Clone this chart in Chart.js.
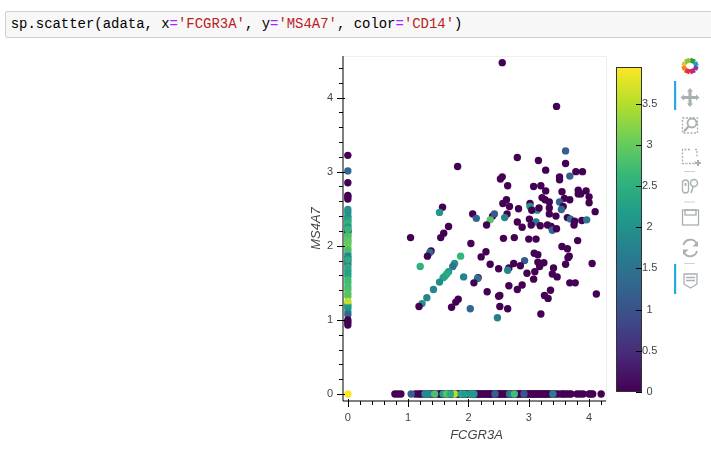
<!DOCTYPE html>
<html>
<head>
<meta charset="utf-8">
<script src="https://cdn.jsdelivr.net/npm/chart.js@4"></script>
<style>
  html, body { margin:0; padding:0; background:#fff; width:711px; height:458px; overflow:hidden; }
  #cell { position:absolute; left:5px; top:11px; width:720px; height:27px; box-sizing:border-box;
          background:#f7f7f7; border:1px solid #cfcfcf; border-radius:2px;
          font:13.95px/25px "Liberation Mono", monospace; color:#000; padding-left:4.7px; white-space:pre; }
  #cell .o { color:#aa22ff; }
  #cell .s { color:#ba2121; }
  #main { position:absolute; left:0; top:0; }
  #bar  { position:absolute; left:600px; top:50px; }
  #tools { position:absolute; left:670px; top:50px; }
</style>
</head>
<body>
<div id="cell">sp.scatter(adata, x<span class="o">=</span><span class="s">'FCGR3A'</span>, y<span class="o">=</span><span class="s">'MS4A7'</span>, color<span class="o">=</span><span class="s">'CD14'</span>)</div>
<canvas id="main" width="711" height="458"></canvas>
<canvas id="bar" width="70" height="350"></canvas>

<svg id="tools" width="41" height="250" viewBox="670 50 41 250">
  <g fill="none" stroke-width="4.6">
    <path d="M690 60 L695 62" stroke="#2ca02c"/>
    <path d="M695 62 L696.500 66" stroke="#1f9bd1"/>
    <path d="M696.500 66 L695 70" stroke="#7b3fa0"/>
    <path d="M695 70 L690 72" stroke="#c2277f"/>
    <path d="M690 72 L685 70" stroke="#e5322d"/>
    <path d="M685 70 L683.500 66" stroke="#f47b20"/>
    <path d="M683.500 66 L685 62" stroke="#f7b733"/>
    <path d="M685 62 L690 60" stroke="#8cc63f"/>
  </g>
  <rect x="674" y="81" width="2.2" height="29" fill="#26aae1"/>
  <rect x="674" y="264" width="2.2" height="30" fill="#26aae1"/>
  <g fill="#a8b0b3" stroke="none">
    <path d="M690 88 l3 3.500 h-1.500 v4.500 h4.500 v-1.500 l3.500 3 -3.500 3 v-1.500 h-4.500 v4.500 h1.500 l-3 3.500 -3 -3.500 h1.500 v-4.500 h-4.500 v1.500 l-3.500 -3 3.500 -3 v1.500 h4.500 v-4.500 h-1.500z"/>
  </g>
  <g fill="none" stroke="#a8b0b3" stroke-width="1.300">
    <rect x="682.500" y="118" width="15" height="15" stroke-dasharray="2 1.500"/>
    <circle cx="692" cy="123" r="4.500" stroke-width="1.800"/>
    <path d="M688.500 126.500 L684 131.500" stroke-width="2.200"/>
    <path d="M690 149.500 h-7.500 v14 h12 v-2 M695 149.500 h2 v7" stroke-dasharray="2 1.500"/>
    <path d="M695 163 h6 M698 160 v6" stroke-width="2"/>
    <rect x="682.500" y="180" width="6" height="13" rx="3"/>
    <path d="M685.500 183 v3" stroke-width="1.800"/>
    <circle cx="694" cy="183" r="3.500" stroke-width="1.500"/>
    <path d="M693 187 L691 193" stroke-width="1.500"/>
    <rect x="682.500" y="210" width="16" height="15"/>
    <rect x="685" y="210" width="11" height="5"/>
    <path d="M683.500 245 a7 7 0 0 1 13 -1.500 M697 251 a7 7 0 0 1 -13 1.500" stroke-width="1.800"/>
    <path d="M684 274 h13 v10 l-6.500 4 -6.500 -4z"/>
    <path d="M686 277.500 h9 M686 280.500 h9"/>
  </g>
  <g fill="#a8b0b3">
    <path d="M698 241 v5.500 h-5.500z M683 255 v-5.500 h5.500z"/>
  </g>
  <g stroke="#d0d0d0" stroke-width="1">
    <path d="M684 171.500 h11 M684 202 h11 M684 263.500 h11"/>
  </g>
</svg>

<script>
const fcgr3a = [
  // cells with zero in MS4A7, purple first so the coloured ones sit on top
  1.12,1.27,1.37,1.43,1.53,1.57,1.63,1.70,1.75,1.83,
  1.90,1.95,2.05,2.07,2.11,2.16,2.20,2.25,2.30,2.34,
  2.38,2.44,2.46,2.51,2.55,2.60,2.65,2.68,2.74,2.78,
  2.83,2.88,2.91,2.94,3.00,3.05,3.09,3.14,3.18,3.23,
  3.27,3.31,3.37,3.42,
  0.78,0.83,0.88,1.17,1.20,1.24,1.30,1.34,1.40,1.46,1.50,1.55,1.60,1.67,1.72,1.80,1.85,1.92,1.97,2.00,
  2.14,2.18,2.22,2.27,2.32,2.36,2.40,2.48,2.53,2.57,2.62,2.71,2.80,2.85,2.97,3.02,3.07,3.11,3.16,3.20,
  3.25,3.29,3.34,3.45,3.50,3.55,3.58,3.62,3.66,3.70,3.80,3.85,3.90,4.00,4.03,4.06,4.20,
  1.05,1.28,1.35,1.44,1.58,1.64,1.77,1.88,2.03,2.09,2.44,2.68,2.76,2.92,3.40,
  1.31,1.70,1.94,2.06,
  // cells with zero in FCGR3A
  0,0,0,0,0,0,0,0,0,0,0,0,0,0,0,0,0,0,0,0,
  0,0,0,0,0,0,0,0,0,0,0,0,0,0,0,0,0,0,0,0,0,0,0,0,0,0,0,0,0,0,0,0,0,
  // both expressed
  2.56,3.46,3.61,2.81,3.16,3.61,1.82,3.28,3.78,3.89,3.68,3.51,3.51,2.56,2.53,2.65,3.08,3.20,3.28,3.55,
  3.82,3.95,3.82,3.86,4.00,3.22,3.59,3.68,3.27,3.34,2.63,2.57,2.68,4.00,3.02,3.51,3.57,3.02,3.14,3.05,
  3.17,2.83,3.34,3.34,4.10,3.54,2.64,3.45,2.07,2.13,2.40,2.43,2.36,2.30,2.60,3.01,2.81,3.12,3.04,2.89,
  3.19,3.31,3.37,3.39,3.46,3.64,3.69,3.76,3.75,3.88,3.96,2.58,2.76,3.00,3.12,3.81,2.04,3.55,3.64,2.29,
  3.09,3.15,1.87,2.21,3.67,3.65,2.93,3.15,3.25,2.75,2.36,3.61,4.05,1.77,1.74,2.86,3.18,2.67,2.65,2.50,
  3.41,3.10,2.97,3.39,3.47,3.08,1.92,2.16,2.15,2.09,3.68,3.77,2.89,2.67,2.81,3.36,2.31,2.52,2.50,3.26,
  3.32,4.12,1.83,1.79,1.72,2.52,2.65,2.03,3.20,2.48,1.38,1.36,1.32,1.20,1.67,1.64,1.61,1.58,1.52,1.42,
  1.31,1.23,1.18,1.04,1.54,1.59,1.67,1.57,1.52
];
const ms4a7 = [
  0,0,0,0,0,0,0,0,0,0,
  0,0,0,0,0,0,0,0,0,0,
  0,0,0,0,0,0,0,0,0,0,
  0,0,0,0,0,0,0,0,0,0,
  0,0,0,0,
  0,0,0,0,0,0,0,0,0,0,0,0,0,0,0,0,0,0,0,0,
  0,0,0,0,0,0,0,0,0,0,0,0,0,0,0,0,0,0,0,0,
  0,0,0,0,0,0,0,0,0,0,0,0,0,0,0,0,0,
  0,0,0,0,0,0,0,0,0,0,0,0,0,0,0,
  0,0,0,0,
  2.45,2.38,2.33,2.27,2.21,2.16,2.11,2.06,2.01,1.97,1.90,1.83,1.75,1.67,1.59,1.50,1.41,1.32,1.21,1.18,
  3.22,3.01,2.85,2.68,2.66,2.63,2.49,2.40,2.35,2.30,2.25,2.19,2.14,2.08,2.04,1.94,1.86,1.79,1.71,1.63,
  1.54,1.45,1.36,1.25,1.16,1.11,1.07,1.00,0.97,0.93,2.22,1.81,0,
  4.47,3.88,3.28,3.19,3.15,3.11,3.07,3.02,3.00,3.00,2.94,2.93,2.89,2.93,2.90,2.81,2.80,2.81,2.74,2.73,
  2.75,2.74,2.70,2.70,2.66,2.65,2.64,2.62,2.62,2.59,2.62,2.57,2.53,2.58,2.57,2.59,2.53,2.53,2.48,2.48,
  2.51,2.50,2.51,2.43,2.46,2.49,2.43,2.40,2.43,2.37,2.40,2.43,2.35,2.28,2.38,2.36,2.32,2.32,2.28,2.25,
  2.27,2.28,2.26,2.21,2.23,2.38,2.36,2.33,2.28,2.34,2.35,2.10,2.11,2.09,2.09,2.07,2.03,1.99,1.96,1.92,
  1.90,1.88,1.86,1.85,1.86,1.84,1.80,1.78,1.77,1.76,1.75,1.75,1.76,1.76,1.72,1.73,1.72,1.70,1.67,1.69,
  1.70,1.65,1.63,1.62,1.58,1.55,1.58,1.57,1.56,1.50,1.50,1.50,1.47,1.46,1.41,1.40,1.38,1.33,1.32,1.33,
  1.29,1.35,1.28,1.24,1.17,1.18,1.15,1.15,1.08,1.03,1.93,1.91,1.86,1.72,1.65,1.62,1.59,1.57,1.51,1.41,
  1.30,1.22,1.18,2.11,2.11,2.17,2.26,2.52,2.45
];
const cd14 = [
  0,0,0,0,0,0,0,0,0,0,
  0,0,0,0,0,0,0,0,0,0,
  0,0,0,0,0,0,0,0,0,0,
  0,0,0,0,0,0,0,0,0,0,
  0,0,0,0,
  0,0,0,0,0,0,0,0,0,0,0,0,0,0,0,0,0,0,0,0,
  0,0,0,0,0,0,0,0,0,0,0,0,0,0,0,0,0,0,0,0,
  0,0,0,0,0,0,0,0,0,0,0,0,0,0,0,0,0,
  1.20,2.00,1.90,2.80,2.20,2.90,3.50,2.30,2.10,2.10,1.20,1.60,2.70,1.10,1.70,
  1.90,2.40,2.20,2.10,
  2.00,2.10,2.40,2.40,2.00,2.80,2.90,3.00,3.10,3.10,2.60,1.70,1.50,2.20,2.40,2.70,2.80,2.90,2.60,2.30,
  0,1.30,0,0,0,0,2.00,2.00,2.30,2.50,2.10,0,2.80,2.90,3.00,2.80,1.80,1.20,2.40,2.30,
  2.70,2.80,2.90,3.60,2.20,2.00,1.30,0,0,0,2.60,2.40,3.95,
  0,0,1.20,0,0,0,0,0,0,0,1.20,0,0,0,0,0,0,0,0,0,
  0,0,0,0,0,0,0,0,0,0,0,0,0,0,0,1.20,0,2.00,2.20,0,
  0,0,0,0,0,1.30,0,0,0,1.30,0,1.10,2.90,0,1.80,0,0,1.60,0,0,
  0,0,0,1.30,0,0,1.40,0,0,0,1.60,0,0,0,0,0,0,0,0,0,
  0,0,2.60,0,0,0,1.10,0,0,0,0,0,0,2.00,1.50,0,0,0,1.80,0,
  0,0,0,0,0,0,1.80,0,1.50,0,0,0,0,0,0,0,0,0,0,0,
  0,0,0,0,0,0,0,1.30,0,1.70,0,1.40,0,2.50,2.20,2.40,2.40,2.30,1.90,1.80,
  1.80,2.00,0,0,0,0,0,0,2.10
];

const xTicks = [0,0.2,0.4,0.6,0.8,1,1.2,1.4,1.6,1.8,2,2.2,2.4,2.6,2.8,3,3.2,3.4,3.6,3.8,4,4.2];
const yTicks = [0,0.2,0.4,0.6,0.8,1,1.2,1.4,1.6,1.8,2,2.2,2.4,2.6,2.8,3,3.2,3.4,3.6,3.8,4,4.2,4.4];
const barTicks = [0,0.5,1,1.5,2,2.5,3,3.5];
const barMax = 3.944;

const viridis = ["#440154","#482878","#3e4a89","#31688e","#26828e","#1f9e89","#35b779","#6ece58","#b5de2b","#fde725"];

function hexToRgb(h) {
  return [1,3,5].map(i => parseInt(h.slice(i,i+2),16));
}
function colorFor(v) {
  const t = Math.min(1, Math.max(0, v / barMax)) * (viridis.length - 1);
  const i = Math.min(viridis.length - 2, Math.floor(t));
  const a = hexToRgb(viridis[i]), b = hexToRgb(viridis[i+1]);
  const m = a.map((c,k) => Math.round(c + (b[k]-c)*(t-i)));
  return `rgb(${m[0]},${m[1]},${m[2]})`;
}

const tickFont = { family:"'Liberation Sans', Helvetica, Arial", size:11 };
const titleFont = { family:"'Liberation Sans', Helvetica, Arial", size:13, style:"italic" };

// bokeh style axes: long major ticks at integers, short minors between
const axisTicks = {
  id: "axisTicks",
  afterDraw(chart) {
    const { ctx, chartArea:a, scales:{x,y} } = chart;
    ctx.save();
    ctx.strokeStyle = "#eeeeee";
    ctx.lineWidth = 1;
    ctx.beginPath();
    ctx.moveTo(a.left, a.top+0.5); ctx.lineTo(a.right+0.5, a.top+0.5); ctx.lineTo(a.right+0.5, a.bottom);
    ctx.stroke();
    ctx.strokeStyle = "#000";
    ctx.beginPath();
    ctx.moveTo(a.left, a.top); ctx.lineTo(a.left, a.bottom); ctx.lineTo(a.right, a.bottom);
    xTicks.forEach(v => {
      const p = Math.round(x.getPixelForValue(v)) + 0.5, major = Number.isInteger(v);
      ctx.moveTo(p, a.bottom + (major ? -2 : 0)); ctx.lineTo(p, a.bottom + (major ? 6 : 4));
    });
    yTicks.forEach(v => {
      const p = Math.round(y.getPixelForValue(v)) + 0.5, major = Number.isInteger(v);
      ctx.moveTo(a.left + (major ? 2 : 0), p); ctx.lineTo(a.left - (major ? 6 : 4), p);
    });
    ctx.stroke();
    // x title sits a little right of the plot centre in the original
    ctx.fillStyle = "#444";
    ctx.font = "italic 13px 'Liberation Sans', Helvetica, Arial";
    ctx.textAlign = "center";
    ctx.textBaseline = "middle";
    ctx.fillText("FCGR3A", 476.5, 435);
    ctx.restore();
  }
};

new Chart(document.getElementById("main"), {
  type: "scatter",
  data: {
    datasets: [{
      data: fcgr3a.map((v,i) => ({ x:v, y:ms4a7[i] })),
      backgroundColor: cd14.map(colorFor),
      borderColor: cd14.map(colorFor),
      borderWidth: 0,
      pointRadius: 3.7,
      pointHoverRadius: 3.7
    }]
  },
  options: {
    responsive: false,
    animation: false,
    layout: { padding: { left:309, right:105, top:56, bottom:12 } },
    plugins: { legend:{display:false}, tooltip:{enabled:false} },
    scales: {
      x: {
        type: "linear", min:-0.08, max:4.28,
        afterBuildTicks: s => { s.ticks = xTicks.map(v => ({value:v})); },
        afterFit: s => { s.height = 45; },
        ticks: { autoSkip:false, maxRotation:0, color:"#444", font:tickFont, padding:3,
                 callback: v => Number.isInteger(v) ? String(v) : "" },
        grid: { display:true, drawOnChartArea:false, tickLength:7, tickColor:"rgba(0,0,0,0)" },
        border: { display:false }
      },
      y: {
        type: "linear", min:-0.094, max:4.56,
        afterBuildTicks: s => { s.ticks = yTicks.map(v => ({value:v})); },
        afterFit: s => { s.width = 34; },
        ticks: { autoSkip:false, color:"#444", font:tickFont, padding:3,
                 callback: v => Number.isInteger(v) ? String(v) : "" },
        grid: { display:true, drawOnChartArea:false, tickLength:7, tickColor:"rgba(0,0,0,0)" },
        border: { display:false },
        title: { display:true, text:"MS4A7", color:"#444", font:titleFont, padding:{top:0,bottom:0} }
      }
    }
  },
  plugins: [axisTicks]
});

// ticks sit inside the bar, on its right edge
const barMarks = {
  id: "barMarks",
  afterDatasetsDraw(chart) {
    const { ctx, chartArea:a, scales:{y} } = chart;
    ctx.save();
    ctx.strokeStyle = "#333";
    ctx.lineWidth = 1;
    ctx.strokeRect(a.left+0.5, a.top+0.5, a.right-a.left-1, a.bottom-a.top-1);
    ctx.beginPath();
    barTicks.forEach(v => {
      const p = Math.round(y.getPixelForValue(v)) + 0.5;
      ctx.moveTo(a.right-6, p); ctx.lineTo(a.right, p);
    });
    ctx.strokeStyle = "#000";
    ctx.stroke();
    ctx.restore();
  }
};

new Chart(document.getElementById("bar"), {
  type: "bar",
  data: {
    labels: ["CD14"],
    datasets: [{
      data: [[0, barMax]],
      barPercentage: 1,
      categoryPercentage: 1,
      backgroundColor: ctx => {
        const a = ctx.chart.chartArea;
        if (!a) return viridis[0];
        const g = ctx.chart.ctx.createLinearGradient(0, a.bottom, 0, a.top);
        viridis.forEach((c,i) => g.addColorStop(i/(viridis.length-1), c));
        return g;
      }
    }]
  },
  options: {
    responsive: false,
    animation: false,
    layout: { padding: { left:16, right:0, top:17, bottom:8 } },
    plugins: { legend:{display:false}, tooltip:{enabled:false} },
    scales: {
      x: { display:false },
      y: {
        position: "right", min:0, max:barMax,
        afterBuildTicks: s => { s.ticks = barTicks.map(v => ({value:v})); },
        afterFit: s => { s.width = 28; },
        ticks: { color:"#444", font:tickFont, padding:0, crossAlign:"center", autoSkip:false,
                 callback: v => String(v) },
        grid: { drawOnChartArea:false, drawTicks:false },
        border: { display:false }
      }
    }
  },
  plugins: [barMarks]
});
</script>
</body>
</html>
